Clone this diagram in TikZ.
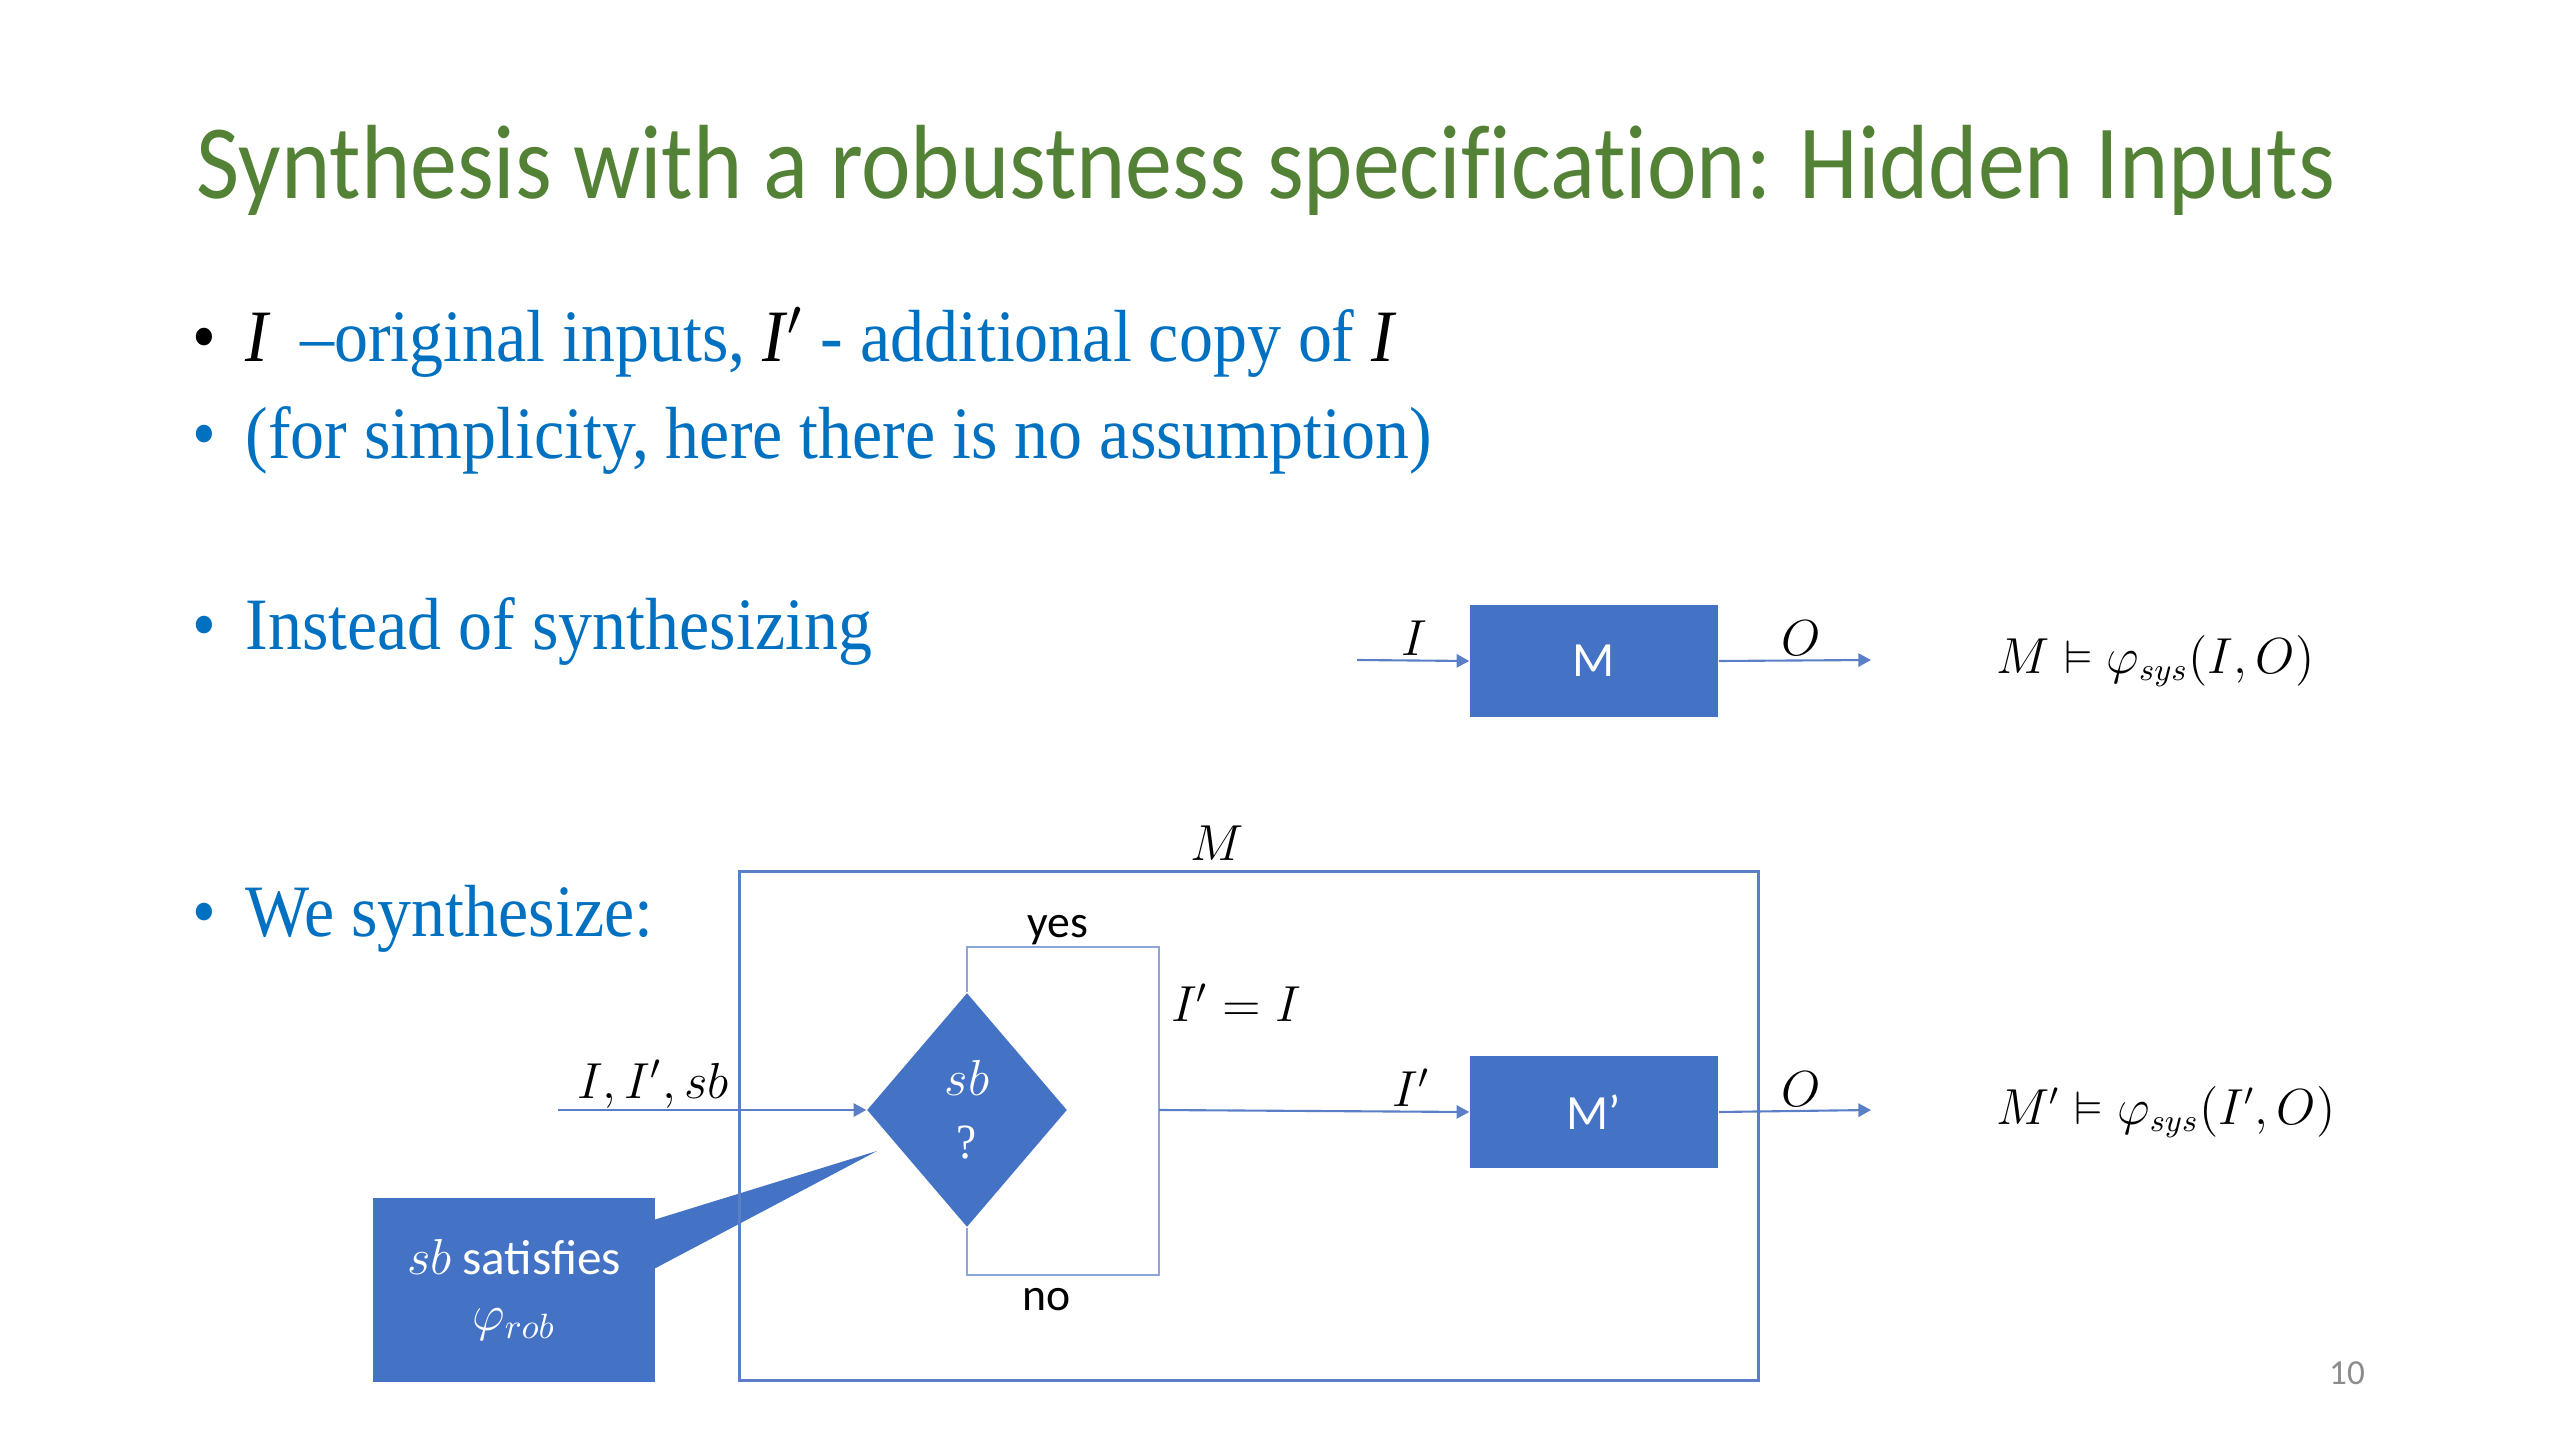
\documentclass[tikz,border=0pt]{standalone}
\usepackage{amsmath}
\usepackage{amssymb}
\usepackage{fontspec}
\setmainfont[FakeStretch=0.92]{Liberation Serif}
\newfontfamily\calib{Carlito}
\newfontfamily\calibttl[FakeStretch=0.89, Ligatures=NoCommon]{Carlito}
\usetikzlibrary{positioning,shapes.geometric,arrows.meta,calc}
\definecolor{ttlGreen}{HTML}{538135}
\definecolor{txtBlue}{HTML}{0070C0}
\definecolor{boxBlue}{HTML}{4472C4}
\definecolor{lineBlue}{HTML}{5B7FC7}
\definecolor{loopBlue}{HTML}{8CA6DA}
\definecolor{pageGray}{HTML}{8C8C8C}

\begin{document}
\begin{tikzpicture}[
    x=0.01cm, y=-0.01cm,
    title/.style   = {font=\calibttl\fontsize{30}{36}\selectfont, text=ttlGreen, anchor=base west, inner sep=0pt},
    bdot/.style    = {font=\fontsize{21}{25}\selectfont, anchor=base, inner sep=0pt},
    btxt/.style    = {font=\fontsize{21}{25}\selectfont, text=txtBlue, anchor=base west, inner sep=0pt},
    mbox/.style    = {draw=none, fill=boxBlue, minimum width=2.48cm, minimum height=1.11cm, inner sep=0pt,
                      font=\calib\fontsize{14}{16}\selectfont, text=white},
    dia/.style     = {diamond, draw=none, fill=boxBlue, minimum width=2.0cm, minimum height=2.34cm, inner sep=0pt,
                      aspect=0.855, align=center, text=white, font=\fontsize{14}{18}\selectfont},
    note/.style    = {draw=none, fill=boxBlue, minimum width=2.81cm, minimum height=1.83cm, inner sep=0pt,
                      align=center, text=white, font=\calib\fontsize{14}{18}\selectfont},
    frame/.style   = {draw=lineBlue, line width=0.9pt, fill=none, minimum width=10.19cm, minimum height=5.08cm, inner sep=0pt},
    flow/.style    = {draw=lineBlue, line width=0.6pt, -{Triangle[length=3.6pt, width=3.8pt]}},
    loopln/.style  = {draw=loopBlue, line width=0.6pt},
    lbl/.style     = {font=\fontsize{14}{16}\selectfont, inner sep=0pt},
    word/.style    = {font=\calib\fontsize{13}{15}\selectfont, inner sep=0pt},
    fml/.style     = {font=\fontsize{13.3}{16}\selectfont, anchor=west, inner sep=0pt}
  ]
  \useasboundingbox (0,0) rectangle (2560,1440);

  % title and bullets
  \node[title] (ttl) at (196,199) {Synthesis with a robustness specification: Hidden Inputs};
  \node[bdot] (d1) at (204,362) {\textbullet};
  \node[btxt] (t1) at (245,362) {\textcolor{black}{\textit{I}}\, –original inputs, \textcolor{black}{\textit{I}$'$} - additional copy of \textcolor{black}{\textit{I}}};
  \node[bdot, text=txtBlue] (d2) at (204,459) {\textbullet};
  \node[btxt] (t2) at (245,459) {(for simplicity, here there is no assumption)};
  \node[bdot, text=txtBlue] (d3) at (204,650) {\textbullet};
  \node[btxt] (t3) at (245,650) {Instead of synthesizing};
  \node[bdot, text=txtBlue] (d4) at (204,936) {\textbullet};
  \node[btxt] (t4) at (245,936) {We synthesize:};

  % plain machine
  \node[mbox] (M) at (1594,661) {M};
  \coordinate (inA) at (1357,660);
  \coordinate (outA) at (1871,660);
  \draw[flow] (inA) -- (M.west);
  \draw[flow] (M.east) -- (outA);
  \node[lbl] (lI) at (1414,638) {$I$};
  \node[lbl] (lO) at (1801,638) {$O$};
  \node[fml] (fM) at (1996,661) {$M \vDash \varphi_{sys}(I,O)$};

  % callout (behind the frame)
  \node[note] (sbn) at (514,1290) {\raisebox{-4pt}{$sb$ satisfies}\\[2pt]$\varphi_{rob}$};
  \coordinate (ptr) at (877,1151);
  \fill[boxBlue] ($(sbn.north east)+(-1,22)$) -- (ptr) -- ($(sbn.north east)+(-1,71)$) -- cycle;

  % wrapped machine
  \node[frame] (outer) at (1249,1126) {};
  \node[lbl] (lM) at (1217,843) {$M$};
  \node[dia] (q) at (967,1110) {$sb$\\?};
  \coordinate (inB) at (558,1110);
  \draw[flow] (inB) -- (q.west);
  \node[lbl] (lin) at (653,1084) {$I,I',sb$};
  \coordinate (yr) at (1159,947);
  \coordinate (nr) at (1159,1275);
  \draw[loopln] (q.north) |- (yr) -- (nr) -| (q.south);
  \node[word] (yes) at (1058,930) {yes};
  \node[word] (no) at (1047,1300) {no};
  \node[lbl] (eq) at (1236,1003) {$I' = I$};
  \node[mbox] (Mp) at (1594,1112) {M’};
  \coordinate (jn) at (1159,1110);
  \draw[flow] (jn) -- (Mp.west);
  \coordinate (outB) at (1871,1110);
  \draw[flow] (Mp.east) -- (outB);
  \node[lbl] (lIp) at (1411,1088) {$I'$};
  \node[lbl] (lOp) at (1801,1089) {$O$};
  \node[fml] (fMp) at (1996,1112) {$M' \vDash \varphi_{sys}(I',O)$};

  \node[word, text=pageGray, font=\calib\fontsize{10}{12}\selectfont] (pg) at (2347,1373) {10};
\end{tikzpicture}
\end{document}
